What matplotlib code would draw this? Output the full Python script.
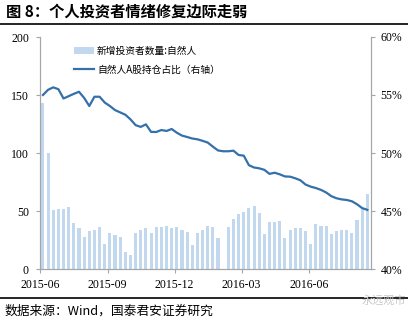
import matplotlib
matplotlib.use("Agg")
import matplotlib.pyplot as plt
import matplotlib.dates as mdates
import numpy as np
import pandas as pd

plt.rcParams['font.family'] = ['Noto Sans CJK SC', 'DejaVu Sans']

# weekly data, 2015-06-05 .. 2016-08-19
dates = pd.date_range("2015-06-05", periods=64, freq="7D")
new_investors = [143, 100, 51, 52, 52, 53.5, 40, 35, 28, 33, 34, 36, 21.5, 31, 29, 28,
                 15, 12, 31, 34, 35, 31, 36.5, 36.5, 37, 35, 36, 33.5, 32, 20.5, 31, 34,
                 37, 36, 26.7, 0, 36, 43, 47, 49, 53, 54, 48, 30, 40.5, 40.5, 41, 27,
                 34, 35, 35, 33, 21.5, 39, 37, 37, 30, 33, 33.5, 33.5, 31, 42, 52, 65]
holding_share = [55.0, 55.45, 55.66, 55.5, 54.7, 54.9, 55.1, 55.28, 54.75, 54.05, 54.85, 54.85,
                 54.35, 54.05, 53.7, 53.5, 53.3, 52.9, 52.4, 52.25, 52.47, 51.82, 51.81, 51.98,
                 51.9, 52.07, 51.75, 51.5, 51.38, 51.25, 51.18, 51.05, 50.9, 50.55, 50.22, 50.15,
                 50.15, 50.2, 49.83, 49.77, 48.95, 48.75, 48.68, 48.55, 48.2, 48.3, 48.16, 47.98,
                 47.96, 47.82, 47.65, 47.28, 47.1, 46.98, 46.82, 46.6, 46.28, 46.1, 46.0, 45.95,
                 45.84, 45.58, 45.25, 45.1]
left_ticks = [0, 50, 100, 150, 200]
right_ticks = [40, 45, 50, 55, 60]
month_ticks = pd.to_datetime(["2015-06-01", "2015-09-01", "2015-12-01", "2016-03-01", "2016-06-01"])

bar_color = "#C2D8EE"
line_color = "#3470AA"
axis_color = "#A6A6A6"
serif = ['Liberation Serif', 'DejaVu Serif']

fig = plt.figure(figsize=(4.08, 3.2), dpi=100)
ax = fig.add_axes([40 / 408, 1 - 269 / 320, 331 / 408, 232 / 320])
ax2 = ax.twinx()

b = ax.bar(dates, new_investors, width=4.2, color=bar_color, label="新增投资者数量:自然人")
l, = ax2.plot(dates, holding_share, color=line_color, lw=1.6, label="自然人A股持仓占比（右轴）")

ax.set_xlim(pd.Timestamp("2015-06-01"), pd.Timestamp("2016-08-24"))
ax.set_ylim(0, 200)
ax2.set_ylim(40, 60)
ax.set_yticks(left_ticks)
ax2.set_yticks(right_ticks)
ax2.set_yticklabels([f"{v}%" for v in right_ticks])
ax.set_xticks(month_ticks)
ax.xaxis.set_major_formatter(mdates.DateFormatter("%Y-%m"))

for a in (ax, ax2):
    for s in a.spines.values():
        s.set_color(axis_color)
    a.spines['top'].set_visible(False)
    a.tick_params(colors=axis_color, length=3, width=0.8, labelcolor="black", labelsize=8.5)
    for t in a.get_xticklabels() + a.get_yticklabels():
        t.set_fontfamily(serif)
ax.tick_params(axis='x', pad=4)
ax.tick_params(axis='y', pad=5)
ax2.tick_params(axis='y', pad=4)

leg = ax.legend([b, l], [b.get_label(), l.get_label()], loc="upper left",
                bbox_to_anchor=(0.075, 1.0), frameon=False, fontsize=7,
                handlelength=2.1, handleheight=0.7, handletextpad=0.3, labelspacing=0.9)

fig.text(0.015, 0.965, "图 8：个人投资者情绪修复边际走弱", fontsize=11, fontweight="bold",
         va="center", ha="left")
fig.add_artist(plt.Line2D([0, 1], [1 - 24 / 320, 1 - 24 / 320], color="black", lw=1.2))
fig.add_artist(plt.Line2D([0, 1], [1 - 298 / 320, 1 - 298 / 320], color="black", lw=1.2))
fig.text(0.012, 1 - 311 / 320, "数据来源：Wind，国泰君安证券研究", fontsize=9.2,
         va="center", ha="left")
fig.text(0.94, 1 - 300 / 320, "永远观市", fontsize=8, color="#C8C8C8", va="center", ha="center")

fig.savefig("out.png", dpi=100)
